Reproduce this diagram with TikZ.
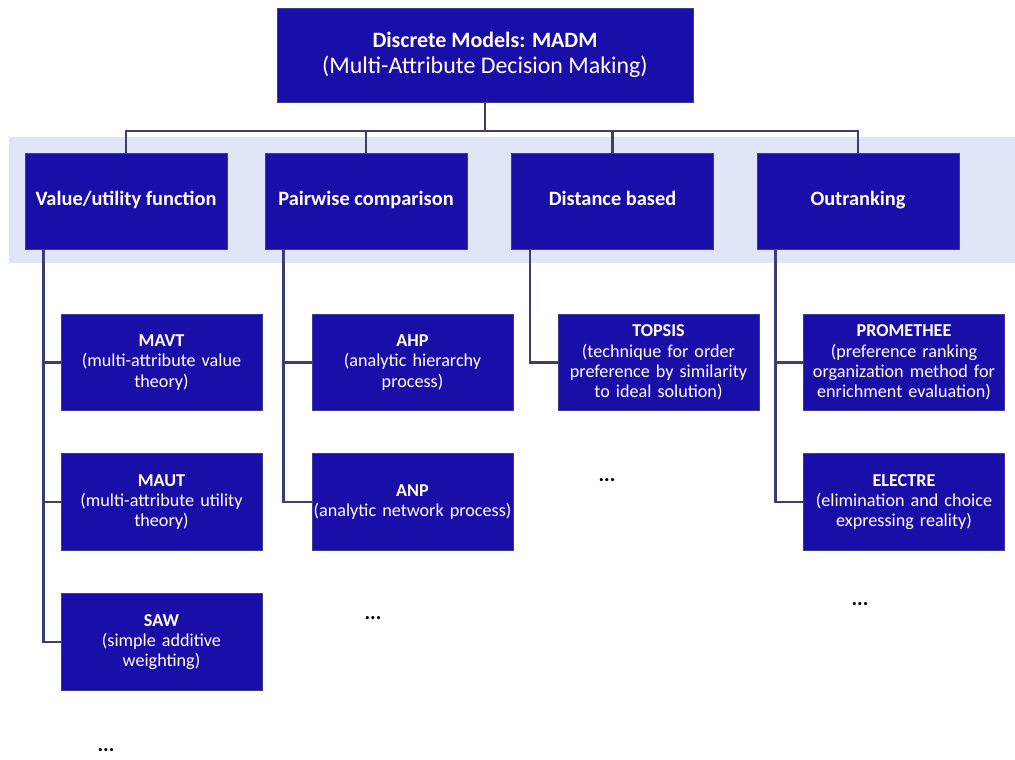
\documentclass[tikz,border=0pt]{standalone}
\usepackage{fontspec}
\setmainfont{Carlito}
\usepackage{xcolor}
\usepackage{tikz}
\usetikzlibrary{positioning}

\definecolor{boxblue}{RGB}{26,14,168}
\definecolor{boxedge}{RGB}{60,60,150}
\definecolor{bandblue}{RGB}{222,230,248}
\definecolor{linegray}{RGB}{60,62,110}

\begin{document}
\begin{tikzpicture}[
            x=0.025cm, y=-0.025cm,
            topbox/.style={draw=boxedge, fill=boxblue, text=white, line width=0.6pt,
                minimum width=10.4cm, minimum height=2.35cm, inner sep=0pt,
                align=center, font=\fontsize{17}{18}\selectfont},
            groupbox/.style={draw=boxedge, fill=boxblue, text=white, line width=0.6pt,
                minimum width=5.05cm, minimum height=2.4cm, inner sep=0pt,
                text height=2ex, text depth=0.6ex,
                font=\fontsize{14.5}{17}\selectfont\bfseries},
            methodbox/.style={draw=boxedge, fill=boxblue, text=white, line width=0.6pt,
                minimum width=5.025cm, minimum height=2.42cm, inner sep=0pt,
                text width=5.025cm, align=center, font=\fontsize{12.9}{14.4}\selectfont},
            dots/.style={font=\fontsize{15}{16}\selectfont\bfseries},
            link/.style={draw=linegray, line width=1.6pt},
        ]
        \useasboundingbox (0,0) rectangle (1015,760);
        % light band behind the four groups
        \fill[bandblue] (9,137) rectangle (1015,263);

        \node[topbox] (madm) at (485,55) {{\fontsize{15.6}{18}\selectfont\textbf{Discrete Models: MADM}}\\(Multi-Attribute Decision Making)};

        \node[groupbox] (value) at (126,201) {Value/utility function};
        \node[groupbox] (pair) at (366,201) {Pairwise comparison};
        \node[groupbox] (dist) at (612.5,201) {Distance based};
        \node[groupbox] (outrank) at (858,201) {Outranking};

        \node[methodbox] (mavt) at (161.5,362.5) {\textbf{MAVT}\\(multi-attribute value\\theory)};
        \node[methodbox] (maut) at (161.5,502) {\textbf{MAUT}\\(multi-attribute utility\\theory)};
        \node[methodbox] (saw) at (161.5,642) {\textbf{SAW}\\(simple additive\\weighting)};
        \node[methodbox] (ahp) at (412.5,362.5) {\textbf{AHP}\\(analytic hierarchy\\process)};
        \node[methodbox] (anp) at (412.5,502) {\textbf{ANP}\\(analytic network process)};
        \node[methodbox] (topsis) at (658.5,362.5) {\textbf{TOPSIS}\\(technique for order\\preference by similarity\\to ideal solution)};
        \node[methodbox] (prom) at (904,362.5) {\textbf{PROMETHEE}\\(preference ranking\\organization method for\\enrichment evaluation)};
        \node[methodbox] (electre) at (904,502) {\textbf{ELECTRE}\\(elimination and choice\\expressing reality)};

        \node[dots] (morevalue) at (106,750) {...};
        \node[dots] (morepair) at (373,618) {...};
        \node[dots] (moredist) at (607,480) {...};
        \node[dots] (moreout) at (860,604) {...};

        % tree links
        \coordinate (bus) at (485,131);
        \draw[link] (madm.south) -- (bus);
        \draw[link] (value.north) |- (bus) -| (outrank.north);
        \draw[link] (pair.north) |- (bus);
        \draw[link] (dist.north) |- (bus);

        \draw[link] ([xshift=0.475cm]value.south west) |- (mavt.west);
        \draw[link] ([xshift=0.475cm]value.south west) |- (maut.west);
        \draw[link] ([xshift=0.475cm]value.south west) |- (saw.west);
        \draw[link] ([xshift=0.475cm]pair.south west) |- (ahp.west);
        \draw[link] ([xshift=0.475cm]pair.south west) |- (anp.west);
        \draw[link] ([xshift=0.475cm]dist.south west) |- (topsis.west);
        \draw[link] ([xshift=0.475cm]outrank.south west) |- (prom.west);
        \draw[link] ([xshift=0.475cm]outrank.south west) |- (electre.west);
        \end{tikzpicture}
\end{document}
